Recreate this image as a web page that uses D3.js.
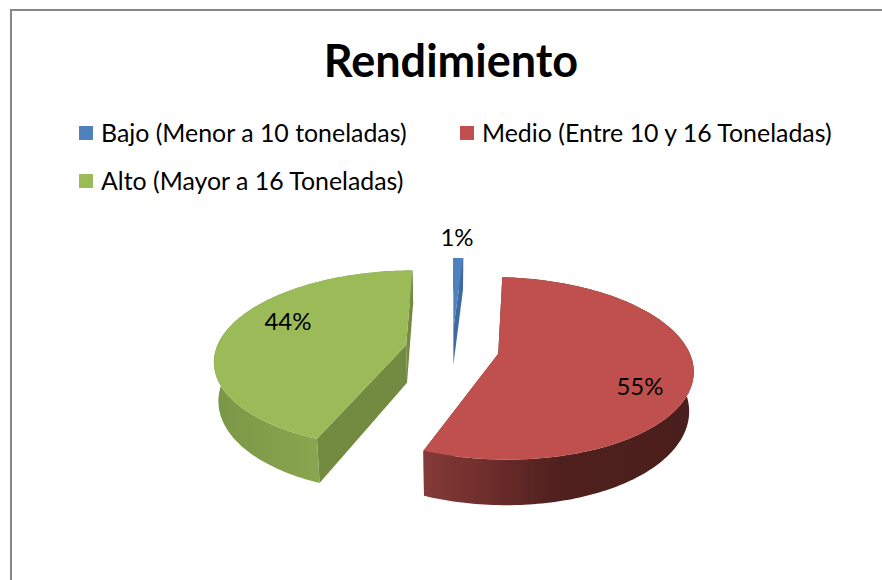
<!DOCTYPE html>
<html>
<head>
<title>Rendimiento</title>
<script src='https://d3js.org/d3.v7.min.js'></script>
<style>
    body {margin: 0; background: white;}
    text {font-family: Lato, "Open Sans", sans-serif; fill: black;}
</style>
</head>
<body>
<svg width=882 height=580></svg>
<script>
var categories = ["Bajo (Menor a 10 toneladas)", "Medio (Entre 10 y 16 Toneladas)", "Alto (Mayor a 16 Toneladas)"];
var values = [1, 55, 44];
var labels = ["1%", "55%", "44%"];

var topColors = ["#4f81bd", "#c0504d", "#9bbb59"];
var faceColors = ["#3f6a9f", "#4a1e1c", "#738b41"];
var wallStops = [
    [[0, "#3f6a9f"], [1, "#3f6a9f"]],
    [[0, "#843a38"], [0.25, "#6c2d2b"], [0.5, "#4f201e"], [1, "#4a1e1c"]],
    [[0, "#7a9746"], [0.55, "#8aa650"], [1, "#728a42"]]
];

// pie seen from above, with some perspective: near points grow, far ones shrink
var cx = 452, cy = 349, radius = 190, explode = 47, depth = 38;
var tilt = 0.46, focal = 1200, shrink = 0.0005;

var svg = d3.select("svg");

function project(px, py, z) {
    var p = focal / (focal + py);
    return [cx + px * p * (1 - z * shrink), cy - tilt * py * p + z * p];
}

// angle 0 is straight up and away from the viewer, clockwise like d3.pie
function slicePoint(d, angle, r, z) {
    var mid = (d.startAngle + d.endAngle) / 2;
    var px = explode * Math.sin(mid) + r * Math.sin(angle);
    var py = explode * Math.cos(mid) + r * Math.cos(angle);
    return project(px, py, z);
}

function rimAngles(d) {
    var n = Math.max(2, Math.ceil((d.endAngle - d.startAngle) / 0.02));
    return d3.range(n + 1).map(function(i) {
        return d.startAngle + (d.endAngle - d.startAngle) * i / n;
    });
}

var line = d3.line().curve(d3.curveLinear);
var pie = d3.pie().sort(null);
var arcs = pie(values);

// frame
svg.append("path")
    .attr("d", "M11,580V10H882")
    .attr("fill", "none")
    .attr("stroke", "#868686")
    .attr("stroke-width", 2);

// title
svg.append("text")
    .attr("x", 451)
    .attr("y", 77)
    .attr("text-anchor", "middle")
    .style("font-size", "45px")
    .style("font-weight", "bold")
    .text("Rendimiento");

// legend
var legendX = [79, 460, 79];
var legendY = [133, 133, 181];
var legend = svg.selectAll("g.legend")
    .data(categories)
    .enter()
    .append("g")
    .attr("class", "legend")
    .attr("transform", function(d, i) { return "translate(" + legendX[i] + "," + legendY[i] + ")"; });
legend.append("rect")
    .attr("x", 0)
    .attr("y", -7)
    .attr("width", 14)
    .attr("height", 14)
    .attr("fill", function(d, i) { return topColors[i]; });
legend.append("text")
    .attr("x", 22)
    .attr("y", 9)
    .style("font-size", "24.9px")
    .text(function(d) { return d; });

// gradients for the outer walls
var defs = svg.append("defs");
arcs.forEach(function(d, i) {
    var xs = rimAngles(d).map(function(a) { return slicePoint(d, a, radius, 0)[0]; });
    var grad = defs.append("linearGradient")
        .attr("id", "wall" + i)
        .attr("gradientUnits", "userSpaceOnUse")
        .attr("x1", d3.min(xs))
        .attr("x2", d3.max(xs))
        .attr("y1", 0)
        .attr("y2", 0);
    wallStops[i].forEach(function(s) {
        grad.append("stop").attr("offset", s[0]).attr("stop-color", s[1]);
    });
});

// slices, walls first and the top face over them
var order = [2, 0, 1];
order.forEach(function(i) {
    var d = arcs[i];
    var angles = rimAngles(d);
    var g = svg.append("g");

    [d.startAngle, d.endAngle].forEach(function(a) {
        var face = [
            slicePoint(d, a, 0, 0),
            slicePoint(d, a, radius, 0),
            slicePoint(d, a, radius, depth),
            slicePoint(d, a, 0, depth)
        ];
        g.append("path")
            .attr("d", line(face) + "Z")
            .attr("fill", faceColors[i]);
    });

    var outer = angles.map(function(a) { return slicePoint(d, a, radius, 0); })
        .concat(angles.slice().reverse().map(function(a) { return slicePoint(d, a, radius, depth); }));
    g.append("path")
        .attr("d", line(outer) + "Z")
        .attr("fill", "url(#wall" + i + ")");

    var top = [slicePoint(d, d.startAngle, 0, 0)]
        .concat(angles.map(function(a) { return slicePoint(d, a, radius, 0); }));
    g.append("path")
        .attr("d", line(top) + "Z")
        .attr("fill", topColors[i]);
});

// data labels
var labelX = [457, 640, 288];
var labelY = [246, 395, 330];
svg.selectAll("text.label")
    .data(labels)
    .enter()
    .append("text")
    .attr("class", "label")
    .attr("x", function(d, i) { return labelX[i]; })
    .attr("y", function(d, i) { return labelY[i]; })
    .attr("text-anchor", "middle")
    .style("font-size", "24px")
    .text(function(d) { return d; });
</script>
</body>
</html>
